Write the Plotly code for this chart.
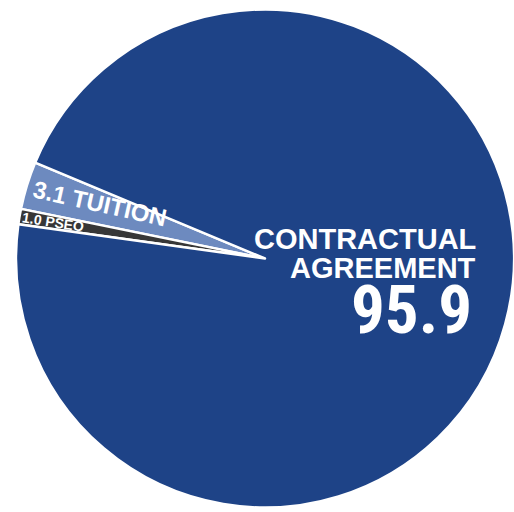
import plotly.graph_objects as go

# Revenue share by source (percent)
categories = ["TUITION", "PSEO", "CONTRACTUAL AGREEMENT"]
shares = [3.1, 1.0, 95.9]
colors = ["#6d8abf", "#373737", "#1e4387"]

W, H = 514, 512
ML, MR, MT, MB = 16, 0, 7, 2


def px(x):
    return (x - ML) / (W - ML - MR)


def py(y):
    return 1 - (y - MT) / (H - MT - MB)


fig = go.Figure(
    go.Pie(
        labels=categories,
        values=shares,
        sort=False,
        direction="counterclockwise",
        rotation=-78.5,
        marker=dict(colors=colors, line=dict(color="white", width=2.5)),
        textinfo="none",
        hoverinfo="label+value",
    )
)

bold = "Liberation Sans, Arial, sans-serif"
condensed = "Roboto Condensed, DejaVu Sans Condensed, Liberation Sans, sans-serif"

words = categories[2].split(" ")
annotations = [
    dict(x=px(478), y=py(239), text=words[0], xanchor="right", yanchor="middle",
         font=dict(family=bold, size=29, color="white", weight="bold")),
    dict(x=px(478), y=py(268), text=words[1], xanchor="right", yanchor="middle",
         font=dict(family=bold, size=29, color="white", weight="bold")),
    dict(x=px(474), y=py(310), text=f"{shares[2]:.1f}", xanchor="right", yanchor="middle",
         font=dict(family=condensed, size=67, color="white", weight="bold")),
    dict(x=px(100), y=py(203), text=f"{shares[0]:.1f} {categories[0]}", textangle=12.5,
         xanchor="center", yanchor="middle",
         font=dict(family=bold, size=24, color="white", weight="bold")),
    dict(x=px(53), y=py(222), text=f"{shares[1]:.1f} {categories[1]}", textangle=9,
         xanchor="center", yanchor="middle",
         font=dict(family=bold, size=14, color="white", weight="bold")),
]
for a in annotations:
    a.update(xref="paper", yref="paper", showarrow=False)

fig.update_layout(
    width=W,
    height=H,
    margin=dict(l=ML, r=MR, t=MT, b=MB),
    paper_bgcolor="white",
    plot_bgcolor="white",
    showlegend=False,
    annotations=annotations,
)

fig.write_html("out.html")
